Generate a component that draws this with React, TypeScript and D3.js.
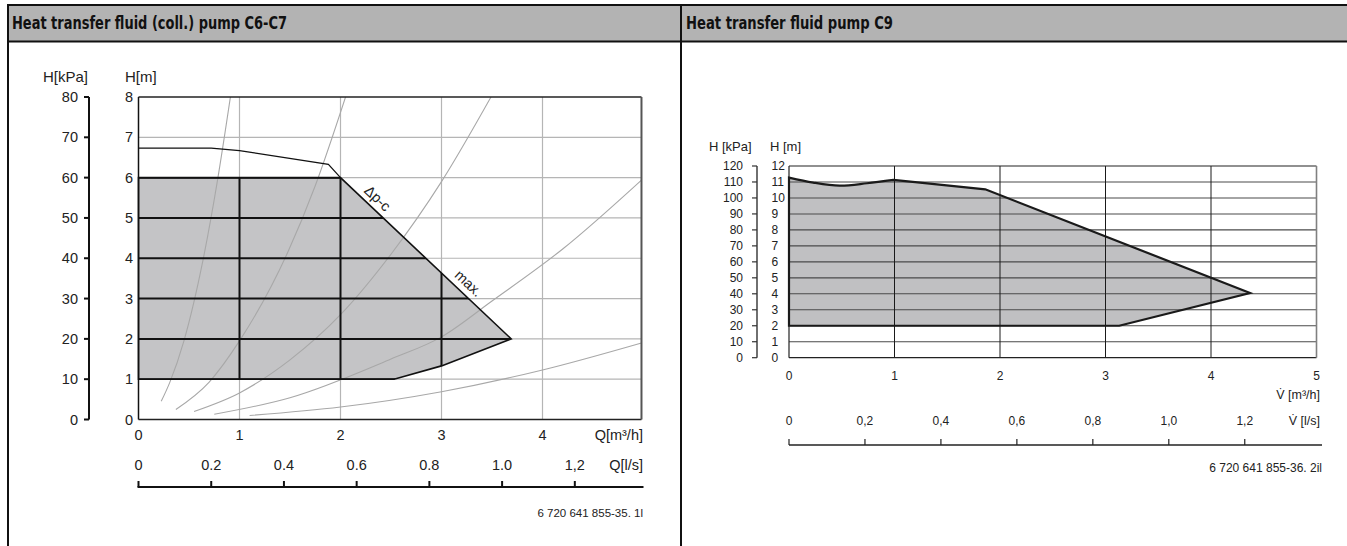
import * as d3 from "d3";

// ---- left panel: C6-C7 ----
const leftQTicks = [0, 1, 2, 3, 4];
const leftHTicks = [0, 1, 2, 3, 4, 5, 6, 7, 8];
const leftKpaTicks = [0, 10, 20, 30, 40, 50, 60, 70, 80];
const leftLsTicks = [0, 0.2, 0.4, 0.6, 0.8, 1.0, 1.2];
const leftLsLabels = ["0", "0.2", "0.4", "0.6", "0.8", "1.0", "1,2"];
const leftGridQ = [1, 2, 3, 4];
const leftGridH = [1, 2, 3, 4, 5, 6, 7];
const leftBlackQ = [1, 2, 3];
const leftBlackH = [1, 2, 3, 4, 5, 6];
// operating field [Q m3/h, H m]
const leftField = [
  [0, 1], [0, 6], [2, 6], [3.69, 2], [3.0, 1.33], [2.53, 1],
];
const leftMaxCurve = [
  [0, 6.73], [0.72, 6.73], [1, 6.67], [1.88, 6.33], [2, 6],
];
const leftSystemCurves = [
  [[0.225, 0.45], [0.31, 0.92], [0.45, 1.95], [0.64, 3.97], [0.78, 5.9], [0.91, 8]],
  [[0.37, 0.25], [0.7, 0.93], [1, 1.95], [1.48, 4.16], [1.75, 5.8], [2.05, 8]],
  [[0.55, 0.2], [1, 0.66], [1.5, 1.48], [2, 2.6], [2.5, 4.1], [3, 5.9], [3.49, 8]],
  [[0.75, 0.13], [1.5, 0.54], [2.5, 1.5], [3, 2.05], [3.5, 2.94], [4.2, 4.23], [4.98, 5.94]],
  [[1.1, 0.1], [2, 0.31], [3, 0.69], [4, 1.23], [4.98, 1.9]],
];

// ---- right panel: C9 ----
const rightQTicks = [0, 1, 2, 3, 4, 5];
const rightHTicks = [0, 1, 2, 3, 4, 5, 6, 7, 8, 9, 10, 11, 12];
const rightKpaTicks = [0, 10, 20, 30, 40, 50, 60, 70, 80, 90, 100, 110, 120];
const rightLsTicks = [0, 0.2, 0.4, 0.6, 0.8, 1.0, 1.2];
const rightLsLabels = ["0", "0,2", "0,4", "0,6", "0,8", "1,0", "1,2"];
const rightGridQ = [1, 2, 3, 4];
const rightGridH = [1, 2, 3, 4, 5, 6, 7, 8, 9, 10, 11];
const rightTopCurve = [
  [0, 11.27], [0.23, 10.96], [0.48, 10.77], [0.74, 10.92], [0.99, 11.13],
];
const rightFieldRest = [
  [1.86, 10.54], [4.37, 4.05], [3.13, 2], [0, 2],
];

const LS_TO_M3H = 3.6;
const FONT = "'Liberation Sans', Arial, Helvetica, sans-serif";
const TITLE_FONT = "'Liberation Sans Narrow', 'DejaVu Sans Condensed', 'Liberation Sans', sans-serif";
const TXT = "#222";

function LeftChart() {
  const x = d3.scaleLinear().domain([0, 5]).range([138.5, 643.5]);
  const y = d3.scaleLinear().domain([0, 8]).range([419.5, 97]);
  const yk = d3.scaleLinear().domain([0, 80]).range([419.5, 97]);
  const qMax = 4.98;
  const x0 = x(0), x1 = x(qMax), y0 = y(0), y1 = y(8);

  const line = d3.line<number[]>().x((d) => x(d[0])).y((d) => y(d[1]));
  const smooth = d3.line<number[]>().x((d) => x(d[0])).y((d) => y(d[1])).curve(d3.curveMonotoneX);
  const fieldPath = line(leftField) + "Z";

  const axisY = 487;
  const fs = 14.5;
  return (
    <g fontFamily={FONT} fill={TXT}>
      <defs>
        <clipPath id="lplot"><rect x={x0} y={y1} width={x1 - x0} height={y0 - y1} /></clipPath>
        <clipPath id="lfield"><path d={fieldPath} /></clipPath>
      </defs>
      {/* light grid */}
      {leftGridQ.map((q) => (
        <line key={"gq" + q} x1={x(q)} x2={x(q)} y1={y1} y2={y0} stroke="#b5b5b5" strokeWidth={1.2} />
      ))}
      {leftGridH.map((h) => (
        <line key={"gh" + h} x1={x0} x2={x1} y1={y(h)} y2={y(h)} stroke="#b5b5b5" strokeWidth={1.2} />
      ))}
      <path d={fieldPath} fill="#c4c4c6" stroke="none" />
      <g clipPath="url(#lplot)">
        {leftSystemCurves.map((c, i) => (
          <path key={"sc" + i} d={smooth(c) || ""} fill="none" stroke="#a8a8a8" strokeWidth={1.1} />
        ))}
      </g>
      <g clipPath="url(#lfield)">
        {leftBlackQ.map((q) => (
          <line key={"bq" + q} x1={x(q)} x2={x(q)} y1={y1} y2={y0} stroke="#111" strokeWidth={2} />
        ))}
        {leftBlackH.map((h) => (
          <line key={"bh" + h} x1={x0} x2={x1} y1={y(h)} y2={y(h)} stroke="#111" strokeWidth={2} />
        ))}
      </g>
      <path d={fieldPath} fill="none" stroke="#111" strokeWidth={1.6} />
      <path d={line(leftMaxCurve) || ""} fill="none" stroke="#111" strokeWidth={1.2} />
      {/* frame */}
      <line x1={x0} x2={x1} y1={y1} y2={y1} stroke="#222" strokeWidth={1.3} />
      <line x1={x0} x2={x1} y1={y0} y2={y0} stroke="#222" strokeWidth={1.3} />
      <line x1={x0} x2={x0} y1={y1} y2={y0} stroke="#111" strokeWidth={1.5} />
      <line x1={x1} x2={x1} y1={y1} y2={y0} stroke="#555" strokeWidth={2} />

      {/* curve labels */}
      <text x={377} y={203} fontSize={14.5} textAnchor="middle" transform="rotate(43 377 199)">Δp-c</text>
      <text x={468} y={288} fontSize={14.5} textAnchor="middle" transform="rotate(43 468 284)">max.</text>

      {/* kPa axis */}
      <line x1={89} x2={89} y1={yk(80)} y2={yk(0)} stroke="#111" strokeWidth={2} />
      {leftKpaTicks.map((k) => (
        <g key={"k" + k}>
          <line x1={84} x2={89} y1={yk(k)} y2={yk(k)} stroke="#111" strokeWidth={2} />
          <text x={78} y={yk(k) + 5} fontSize={fs} textAnchor="end">{k}</text>
        </g>
      ))}
      {leftHTicks.map((h) => (
        <text key={"h" + h} x={133} y={y(h) + 5} fontSize={fs} textAnchor="end">{h}</text>
      ))}
      <text x={43} y={82} fontSize={15}>H[kPa]</text>
      <text x={125} y={82} fontSize={15}>H[m]</text>

      {/* Q m3/h labels */}
      {leftQTicks.map((q) => (
        <text key={"q" + q} x={x(q)} y={440} fontSize={fs} textAnchor="middle">{q}</text>
      ))}
      <text x={643} y={440} fontSize={fs} textAnchor="end">Q[m³/h]</text>

      {/* Q l/s axis */}
      {leftLsTicks.map((l, i) => (
        <g key={"l" + i}>
          <text x={x(l * LS_TO_M3H)} y={470} fontSize={fs} textAnchor="middle">{leftLsLabels[i]}</text>
          <line x1={x(l * LS_TO_M3H)} x2={x(l * LS_TO_M3H)} y1={axisY - 6} y2={axisY} stroke="#111" strokeWidth={2} />
        </g>
      ))}
      <line x1={x0 - 1} x2={643.5} y1={axisY} y2={axisY} stroke="#111" strokeWidth={2} />
      <text x={643} y={470} fontSize={fs} textAnchor="end">Q[l/s]</text>
      <text x={643} y={517} fontSize={11.5} textAnchor="end">6 720 641 855-35. 1l</text>
    </g>
  );
}

function RightChart() {
  const x = d3.scaleLinear().domain([0, 5]).range([789, 1316.5]);
  const y = d3.scaleLinear().domain([0, 12]).range([357.7, 166]);
  const yk = d3.scaleLinear().domain([0, 120]).range([357.7, 166]);
  const x0 = x(0), x1 = x(5), y0 = y(0), y1 = y(12);

  const curve = d3.line<number[]>().x((d) => x(d[0])).y((d) => y(d[1])).curve(d3.curveCatmullRom);
  const line = d3.line<number[]>().x((d) => x(d[0])).y((d) => y(d[1]));
  const rest = (line(rightFieldRest) || "").replace(/^M/, "L");
  const fieldPath = (curve(rightTopCurve) || "") + rest + "Z";

  const axisY = 445;
  const fs = 12;
  return (
    <g fontFamily={FONT} fill={TXT}>
      <path d={fieldPath} fill="#c0c0c2" stroke="none" />
      {rightGridH.map((h) => (
        <line key={"gh" + h} x1={x0} x2={x1} y1={y(h)} y2={y(h)} stroke="#4a4a4a" strokeWidth={1.1} />
      ))}
      {rightGridQ.map((q) => (
        <line key={"gq" + q} x1={x(q)} x2={x(q)} y1={y1} y2={y0} stroke="#1a1a1a" strokeWidth={1} />
      ))}
      <line x1={x0} x2={x1} y1={y1} y2={y1} stroke="#222" strokeWidth={1.2} />
      <line x1={x0} x2={x1} y1={y0} y2={y0} stroke="#222" strokeWidth={1.2} />
      <line x1={x0} x2={x0} y1={y1} y2={y0} stroke="#222" strokeWidth={1.2} />
      <line x1={x1} x2={x1} y1={y1} y2={y0} stroke="#808080" strokeWidth={1.6} />
      <path d={fieldPath} fill="none" stroke="#1a1a1a" strokeWidth={2.2} strokeLinejoin="miter" />

      {/* kPa axis */}
      <line x1={757} x2={757} y1={yk(120)} y2={yk(0)} stroke="#333" strokeWidth={1.4} />
      {rightKpaTicks.map((k) => (
        <g key={"k" + k}>
          <line x1={752} x2={757} y1={yk(k)} y2={yk(k)} stroke="#333" strokeWidth={1.2} />
          <text x={743} y={yk(k) + 4} fontSize={fs} textAnchor="end">{k}</text>
        </g>
      ))}
      {rightHTicks.map((h) => (
        <text key={"h" + h} x={771.5} y={y(h) + 4} fontSize={fs}>{h}</text>
      ))}
      <text x={709} y={151} fontSize={13}>H [kPa]</text>
      <text x={770} y={151} fontSize={13}>H [m]</text>

      {rightQTicks.map((q) => (
        <text key={"q" + q} x={x(q)} y={380} fontSize={fs} textAnchor="middle">{q}</text>
      ))}
      <text x={1320} y={399} fontSize={12.5} textAnchor="end">V̇ [m³/h]</text>

      {rightLsTicks.map((l, i) => (
        <g key={"l" + i}>
          <text x={x(l * LS_TO_M3H)} y={425} fontSize={fs} textAnchor="middle">{rightLsLabels[i]}</text>
          <line x1={x(l * LS_TO_M3H)} x2={x(l * LS_TO_M3H)} y1={axisY - 6} y2={axisY} stroke="#222" strokeWidth={1.2} />
        </g>
      ))}
      <line x1={x0} x2={1322} y1={axisY} y2={axisY} stroke="#222" strokeWidth={1.3} />
      <text x={1320} y={425} fontSize={12.5} textAnchor="end">V̇ [l/s]</text>
      <text x={1322} y={472} fontSize={12} textAnchor="end">6 720 641 855-36. 2il</text>
    </g>
  );
}

export default function App() {
  return (
    <svg
      width={1347}
      height={546}
      style={{ position: "absolute", left: 0, top: 0, background: "#fff" }}
    >
      {/* header band */}
      <rect x={8} y={5} width={1339} height={36.5} fill="#b3b3b3" />
      <line x1={7} x2={1347} y1={5} y2={5} stroke="#111" strokeWidth={2} />
      <line x1={7} x2={1347} y1={41.5} y2={41.5} stroke="#111" strokeWidth={2} />
      <line x1={8} x2={8} y1={4} y2={546} stroke="#111" strokeWidth={2} />
      <line x1={681} x2={681} y1={4} y2={546} stroke="#111" strokeWidth={2} />
      <text x={12} y={29} fontFamily={TITLE_FONT} fontWeight="bold" fontSize={18.5} fill="#111"
        textLength={275} lengthAdjust="spacingAndGlyphs">Heat transfer fluid (coll.) pump C6-C7</text>
      <text x={686} y={29} fontFamily={TITLE_FONT} fontWeight="bold" fontSize={18.5} fill="#111"
        textLength={207} lengthAdjust="spacingAndGlyphs">Heat transfer fluid pump C9</text>
      <LeftChart />
      <RightChart />
    </svg>
  );
}
